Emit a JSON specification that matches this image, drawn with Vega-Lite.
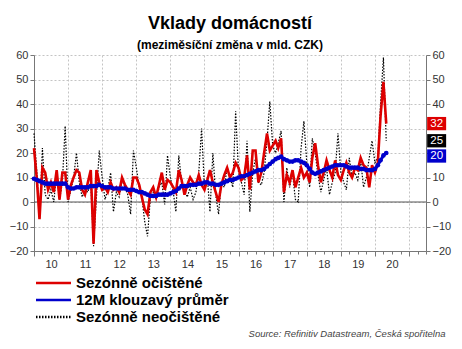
{
  "$schema": "https://vega.github.io/schema/vega-lite/v6.json",
  "width": 392,
  "height": 196,
  "autosize": "none",
  "padding": {"left": 34, "top": 55, "right": 36, "bottom": 98},
  "background": "white",
  "config": {
    "font": "Liberation Sans",
    "view": {"stroke": null},
    "axis": {"labelFont": "Liberation Sans", "titleFont": "Liberation Sans"},
    "legend": {"labelFont": "Liberation Sans"}
  },
  "title": {
    "text": "Vklady domácností",
    "subtitle": "(meziměsíční změna v mld. CZK)",
    "font": "Liberation Sans",
    "subtitleFont": "Liberation Sans",
    "fontSize": 18,
    "fontWeight": "bold",
    "subtitleFontSize": 12,
    "subtitleFontWeight": "bold",
    "color": "#000000",
    "subtitleColor": "#000000",
    "anchor": "middle",
    "offset": -2,
    "subtitlePadding": 7
  },
  "datasets": {
    "m": [
      {"d":"2010-01","r":22,"a":9.5,"b":28},{"d":"2010-02","r":9,"a":9,"b":12},{"d":"2010-03","r":-7,"a":8.5,"b":-7},{"d":"2010-04","r":14,"a":8,"b":22},
      {"d":"2010-05","r":12,"a":7.5,"b":3},{"d":"2010-06","r":5,"a":7.5,"b":1},{"d":"2010-07","r":8,"a":7.5,"b":5},{"d":"2010-08","r":4,"a":7.5,"b":0},
      {"d":"2010-09","r":13,"a":7.5,"b":12},{"d":"2010-10","r":1,"a":7.5,"b":1},{"d":"2010-11","r":12,"a":7.5,"b":8},{"d":"2010-12","r":12,"a":7.5,"b":31},
      {"d":"2011-01","r":1,"a":6,"b":0},{"d":"2011-02","r":7,"a":5.5,"b":5},{"d":"2011-03","r":10,"a":5.5,"b":10},{"d":"2011-04","r":13,"a":6,"b":20},
      {"d":"2011-05","r":12,"a":6,"b":8},{"d":"2011-06","r":5,"a":6,"b":2},{"d":"2011-07","r":3,"a":6,"b":5},{"d":"2011-08","r":8,"a":6,"b":4},
      {"d":"2011-09","r":13,"a":6.5,"b":8},{"d":"2011-10","r":-17,"a":6.5,"b":-18},{"d":"2011-11","r":13,"a":6.5,"b":2},{"d":"2011-12","r":8,"a":7,"b":21},
      {"d":"2012-01","r":5,"a":6.5,"b":10},{"d":"2012-02","r":6,"a":6,"b":1},{"d":"2012-03","r":4,"a":6,"b":5},{"d":"2012-04","r":8,"a":6,"b":12},
      {"d":"2012-05","r":5,"a":5.5,"b":-4},{"d":"2012-06","r":6,"a":5.5,"b":4},{"d":"2012-07","r":4,"a":5.5,"b":2},{"d":"2012-08","r":10,"a":5.5,"b":9},
      {"d":"2012-09","r":7,"a":5.5,"b":6},{"d":"2012-10","r":5,"a":5,"b":3},{"d":"2012-11","r":3,"a":5,"b":-5},{"d":"2012-12","r":10,"a":5,"b":21},
      {"d":"2013-01","r":10,"a":4.5,"b":14},{"d":"2013-02","r":7,"a":4,"b":6},{"d":"2013-03","r":2,"a":4,"b":2},{"d":"2013-04","r":-3,"a":3.5,"b":-8},
      {"d":"2013-05","r":-5,"a":3,"b":-14},{"d":"2013-06","r":4,"a":2.5,"b":2},{"d":"2013-07","r":6,"a":2.5,"b":4},{"d":"2013-08","r":2,"a":2.5,"b":1},
      {"d":"2013-09","r":7,"a":3,"b":6},{"d":"2013-10","r":12,"a":3,"b":8},{"d":"2013-11","r":5,"a":3,"b":-1},{"d":"2013-12","r":9,"a":3,"b":19},
      {"d":"2014-01","r":8,"a":3.5,"b":10},{"d":"2014-02","r":6,"a":4,"b":4},{"d":"2014-03","r":4,"a":4.5,"b":-4},{"d":"2014-04","r":13,"a":5.5,"b":19},
      {"d":"2014-05","r":9,"a":6.5,"b":8},{"d":"2014-06","r":3,"a":6.5,"b":5},{"d":"2014-07","r":7,"a":6.5,"b":2},{"d":"2014-08","r":10,"a":7,"b":6},
      {"d":"2014-09","r":8,"a":7,"b":1},{"d":"2014-10","r":7,"a":7,"b":4},{"d":"2014-11","r":11,"a":7.5,"b":12},{"d":"2014-12","r":7,"a":7.5,"b":30},
      {"d":"2015-01","r":5,"a":8,"b":6},{"d":"2015-02","r":9,"a":8,"b":10},{"d":"2015-03","r":13,"a":7.5,"b":-4},{"d":"2015-04","r":8,"a":7.5,"b":20},
      {"d":"2015-05","r":4,"a":7,"b":3},{"d":"2015-06","r":0,"a":7,"b":-5},{"d":"2015-07","r":7,"a":7.5,"b":8},{"d":"2015-08","r":11,"a":8,"b":6},
      {"d":"2015-09","r":14,"a":8.5,"b":14},{"d":"2015-10","r":10,"a":9,"b":10},{"d":"2015-11","r":12,"a":9,"b":6},{"d":"2015-12","r":16,"a":9.5,"b":37},
      {"d":"2016-01","r":14,"a":10,"b":12},{"d":"2016-02","r":9,"a":10.5,"b":8},{"d":"2016-03","r":10,"a":10.5,"b":3},{"d":"2016-04","r":19,"a":11,"b":25},
      {"d":"2016-05","r":5,"a":11.5,"b":-4},{"d":"2016-06","r":21,"a":12,"b":12},{"d":"2016-07","r":21,"a":12.5,"b":18},{"d":"2016-08","r":8,"a":13,"b":8},
      {"d":"2016-09","r":12,"a":13,"b":7},{"d":"2016-10","r":20,"a":13.5,"b":12},{"d":"2016-11","r":28,"a":14.5,"b":25},{"d":"2016-12","r":21,"a":15.5,"b":41},
      {"d":"2017-01","r":23,"a":16.5,"b":23},{"d":"2017-02","r":25,"a":17.5,"b":20},{"d":"2017-03","r":22,"a":18,"b":24},{"d":"2017-04","r":26,"a":18.5,"b":29},
      {"d":"2017-05","r":4,"a":17.5,"b":0},{"d":"2017-06","r":11,"a":17,"b":14},{"d":"2017-07","r":8,"a":16.5,"b":6},{"d":"2017-08","r":13,"a":16.5,"b":12},
      {"d":"2017-09","r":6,"a":17,"b":1},{"d":"2017-10","r":10,"a":17,"b":0},{"d":"2017-11","r":14,"a":16.5,"b":22},{"d":"2017-12","r":10,"a":16,"b":33},
      {"d":"2018-01","r":12,"a":15,"b":16},{"d":"2018-02","r":8,"a":13.5,"b":6},{"d":"2018-03","r":18,"a":12,"b":26},{"d":"2018-04","r":24,"a":11.5,"b":20},
      {"d":"2018-05","r":15,"a":12,"b":11},{"d":"2018-06","r":8,"a":12.5,"b":4},{"d":"2018-07","r":12,"a":13,"b":9},{"d":"2018-08","r":17,"a":13.5,"b":14},
      {"d":"2018-09","r":13,"a":14,"b":3},{"d":"2018-10","r":10,"a":14.5,"b":8},{"d":"2018-11","r":17,"a":15,"b":12},{"d":"2018-12","r":11,"a":15,"b":28},
      {"d":"2019-01","r":9,"a":15,"b":12},{"d":"2019-02","r":13,"a":15,"b":8},{"d":"2019-03","r":16,"a":14.5,"b":5},{"d":"2019-04","r":12,"a":14,"b":18},
      {"d":"2019-05","r":10,"a":14,"b":10},{"d":"2019-06","r":14,"a":14,"b":12},{"d":"2019-07","r":13,"a":14,"b":9},{"d":"2019-08","r":18,"a":13.5,"b":17},
      {"d":"2019-09","r":15,"a":13.5,"b":6},{"d":"2019-10","r":14,"a":13,"b":10},{"d":"2019-11","r":6,"a":13,"b":18},{"d":"2019-12","r":15,"a":13,"b":25},
      {"d":"2020-01","r":12,"a":13.5,"b":16},{"d":"2020-02","r":16,"a":15,"b":18},{"d":"2020-03","r":35,"a":17,"b":40},{"d":"2020-04","r":49,"a":19,"b":59},
      {"d":"2020-05","r":32,"a":20,"b":25}
    ],
    "tags": [{"k":"r","v":32},{"k":"b","v":25},{"k":"a","v":20}]
  },
  "layer": [
    {
      "data": {"values": [{}]},
      "mark": {"type": "rule", "color": "#555555", "strokeWidth": 1},
      "encoding": {
        "y": {"datum": 0, "type": "quantitative", "scale": {"domain": [-20, 60], "nice": false, "zero": false}, "axis": null}
      }
    },
    {
      "data": {"name": "m", "format": {"parse": {"d": "date"}}},
      "transform": [{"fold": ["r", "a", "b"], "as": ["k", "v"]}, {"filter": "datum.k === 'b'"}],
      "mark": {"type": "line", "strokeWidth": 1.2},
      "encoding": {
        "x": {"field": "d", "type": "temporal",
          "scale": {"type": "utc", "domain": [{"year": 2010, "month": 1, "date": 1, "utc": true}, {"year": 2021, "month": 7, "date": 1, "utc": true}]},
          "axis": {"orient": "bottom", "tickCount": {"interval": "year", "step": 1},
            "labelExpr": "utcyear(datum.value) > 2020 ? '' : utcFormat(datum.value, '%y')",
            "labelOffset": 17, "labelFontSize": 11, "labelColor": "#333333", "labelPadding": 2,
            "labelFlush": false, "labelOverlap": false, "labelBound": false,
            "tickSize": 5, "tickColor": "#777777", "domainColor": "#777777",
            "grid": true, "gridColor": "#c4c4c4", "gridDash": [2, 2],
            "title": "Source: Refinitiv Datastream, Česká spořitelna",
            "titleFontSize": 9.5, "titleFontStyle": "italic", "titleFontWeight": "normal", "titleColor": "#444444",
            "titleAnchor": "end", "titleAlign": "right", "titleX": 411, "titleY": 85, "titleBaseline": "alphabetic"}},
        "y": {"field": "v", "type": "quantitative", "scale": {"domain": [-20, 60], "nice": false, "zero": false},
          "axis": {"orient": "left", "values": [-20, -10, 0, 10, 20, 30, 40, 50, 60], "labelFontSize": 11, "labelColor": "#333333",
            "labelPadding": 2, "tickSize": 4, "tickColor": "#777777", "domainColor": "#777777",
            "grid": true, "gridColor": "#c4c4c4", "gridDash": [2, 2], "title": null}},
        "color": {"field": "k", "type": "nominal",
          "scale": {"domain": ["r", "a", "b"], "range": ["#dd0000", "#0000cc", "#000000"]},
          "legend": {"orient": "none", "legendX": 11, "legendY": 219.5, "title": null,
            "labelExpr": "datum.value === 'r' ? 'Sezónně očištěné' : datum.value === 'a' ? '12M klouzavý průměr' : 'Sezónně neočištěné'",
            "labelFontSize": 15, "labelFontWeight": "bold", "labelColor": "#000000", "labelOffset": 14,
            "symbolType": "M-2.5,0H2.5", "symbolSize": 196, "symbolStrokeWidth": 2.5, "rowPadding": 0}},
        "strokeDash": {"field": "k", "type": "nominal",
          "scale": {"domain": ["r", "a", "b"], "range": [[1, 0], [1, 0], [1.5, 1.5]]},
          "legend": {"orient": "none", "legendX": 11, "legendY": 219.5, "title": null,
            "labelExpr": "datum.value === 'r' ? 'Sezónně očištěné' : datum.value === 'a' ? '12M klouzavý průměr' : 'Sezónně neočištěné'",
            "labelFontSize": 15, "labelFontWeight": "bold", "labelColor": "#000000", "labelOffset": 14,
            "symbolType": "M-2.5,0H2.5", "symbolSize": 196, "symbolStrokeWidth": 2.5, "rowPadding": 0}}
      }
    },
    {
      "data": {"name": "m", "format": {"parse": {"d": "date"}}},
      "transform": [{"fold": ["r", "a", "b"], "as": ["k", "v"]}, {"filter": "datum.k === 'r'"}],
      "mark": {"type": "line", "strokeWidth": 2.6},
      "encoding": {
        "x": {"field": "d", "type": "temporal",
          "scale": {"type": "utc", "domain": [{"year": 2010, "month": 1, "date": 1, "utc": true}, {"year": 2021, "month": 7, "date": 1, "utc": true}]},
          "axis": {"orient": "bottom", "tickCount": {"interval": "month", "step": 3}, "labels": false, "grid": false, "domain": false,
            "tickSize": 3, "tickColor": "#777777", "title": null}},
        "y": {"field": "v", "type": "quantitative", "scale": {"domain": [-20, 60], "nice": false, "zero": false},
          "axis": {"orient": "right", "values": [-20, -10, 0, 10, 20, 30, 40, 50, 60],
            "labelExpr": "datum.value === 20 || datum.value === 30 ? '' : datum.label",
            "labelFontSize": 11, "labelColor": "#333333",
            "labelPadding": 2, "tickSize": 4, "tickColor": "#777777", "domainColor": "#777777", "grid": false, "title": null}},
        "color": {"field": "k", "type": "nominal", "scale": {"domain": ["r", "a", "b"], "range": ["#dd0000", "#0000cc", "#000000"]}},
        "strokeDash": {"field": "k", "type": "nominal", "scale": {"domain": ["r", "a", "b"], "range": [[1, 0], [1, 0], [1.5, 1.5]]}}
      }
    },
    {
      "data": {"name": "m", "format": {"parse": {"d": "date"}}},
      "transform": [{"fold": ["r", "a", "b"], "as": ["k", "v"]}, {"filter": "datum.k === 'a'"}],
      "mark": {"type": "line", "strokeWidth": 3},
      "encoding": {
        "x": {"field": "d", "type": "temporal",
          "scale": {"type": "utc", "domain": [{"year": 2010, "month": 1, "date": 1, "utc": true}, {"year": 2021, "month": 7, "date": 1, "utc": true}]},
          "axis": null},
        "y": {"field": "v", "type": "quantitative", "scale": {"domain": [-20, 60], "nice": false, "zero": false}, "axis": null},
        "color": {"field": "k", "type": "nominal", "scale": {"domain": ["r", "a", "b"], "range": ["#dd0000", "#0000cc", "#000000"]}},
        "strokeDash": {"field": "k", "type": "nominal", "scale": {"domain": ["r", "a", "b"], "range": [[1, 0], [1, 0], [1.5, 1.5]]}}
      }
    },
    {
      "data": {"name": "m", "format": {"parse": {"d": "date"}}},
      "mark": {"type": "point", "filled": true, "size": 22, "opacity": 1, "color": "#0000cc"},
      "encoding": {
        "x": {"field": "d", "type": "temporal",
          "scale": {"type": "utc", "domain": [{"year": 2010, "month": 1, "date": 1, "utc": true}, {"year": 2021, "month": 7, "date": 1, "utc": true}]},
          "axis": null},
        "y": {"field": "a", "type": "quantitative", "scale": {"domain": [-20, 60], "nice": false, "zero": false}, "axis": null}
      }
    },
    {
      "data": {"name": "tags"},
      "transform": [{"filter": "datum.k !== 'a'"}],
      "mark": {"type": "point", "filled": true, "opacity": 1, "size": 361, "shape": "M-1,-0.7H1V0.7H-1Z"},
      "encoding": {
        "x": {"datum": {"year": 2021, "month": 10, "date": 23, "utc": true}, "type": "temporal",
          "scale": {"type": "utc", "domain": [{"year": 2010, "month": 1, "date": 1, "utc": true}, {"year": 2021, "month": 7, "date": 1, "utc": true}]},
          "axis": null},
        "y": {"field": "v", "type": "quantitative", "scale": {"domain": [-20, 60], "nice": false, "zero": false}, "axis": null},
        "color": {"field": "k", "type": "nominal", "scale": {"domain": ["r", "a", "b"], "range": ["#ee1111", "#1111dd", "#000000"]}, "legend": null}
      }
    },
    {
      "data": {"name": "tags"},
      "transform": [{"filter": "datum.k === 'a'"}],
      "mark": {"type": "point", "filled": true, "opacity": 1, "size": 361, "shape": "M-1,-0.7H1V0.7H-1Z", "yOffset": 3},
      "encoding": {
        "x": {"datum": {"year": 2021, "month": 10, "date": 23, "utc": true}, "type": "temporal",
          "scale": {"type": "utc", "domain": [{"year": 2010, "month": 1, "date": 1, "utc": true}, {"year": 2021, "month": 7, "date": 1, "utc": true}]},
          "axis": null},
        "y": {"field": "v", "type": "quantitative", "scale": {"domain": [-20, 60], "nice": false, "zero": false}, "axis": null},
        "color": {"field": "k", "type": "nominal", "scale": {"domain": ["r", "a", "b"], "range": ["#ee1111", "#1111dd", "#000000"]}, "legend": null}
      }
    },
    {
      "data": {"name": "tags"},
      "transform": [{"filter": "datum.k !== 'a'"}],
      "mark": {"type": "text", "color": "#ffffff", "fontSize": 11.5, "align": "center", "baseline": "middle"},
      "encoding": {
        "x": {"datum": {"year": 2021, "month": 10, "date": 23, "utc": true}, "type": "temporal",
          "scale": {"type": "utc", "domain": [{"year": 2010, "month": 1, "date": 1, "utc": true}, {"year": 2021, "month": 7, "date": 1, "utc": true}]},
          "axis": null},
        "y": {"field": "v", "type": "quantitative", "scale": {"domain": [-20, 60], "nice": false, "zero": false}, "axis": null},
        "text": {"field": "v", "type": "quantitative"}
      }
    },
    {
      "data": {"name": "tags"},
      "transform": [{"filter": "datum.k === 'a'"}],
      "mark": {"type": "text", "color": "#ffffff", "fontSize": 11.5, "align": "center", "baseline": "middle", "yOffset": 3},
      "encoding": {
        "x": {"datum": {"year": 2021, "month": 10, "date": 23, "utc": true}, "type": "temporal",
          "scale": {"type": "utc", "domain": [{"year": 2010, "month": 1, "date": 1, "utc": true}, {"year": 2021, "month": 7, "date": 1, "utc": true}]},
          "axis": null},
        "y": {"field": "v", "type": "quantitative", "scale": {"domain": [-20, 60], "nice": false, "zero": false}, "axis": null},
        "text": {"field": "v", "type": "quantitative"}
      }
    }
  ],
  "resolve": {"axis": {"x": "independent", "y": "independent"}}
}
